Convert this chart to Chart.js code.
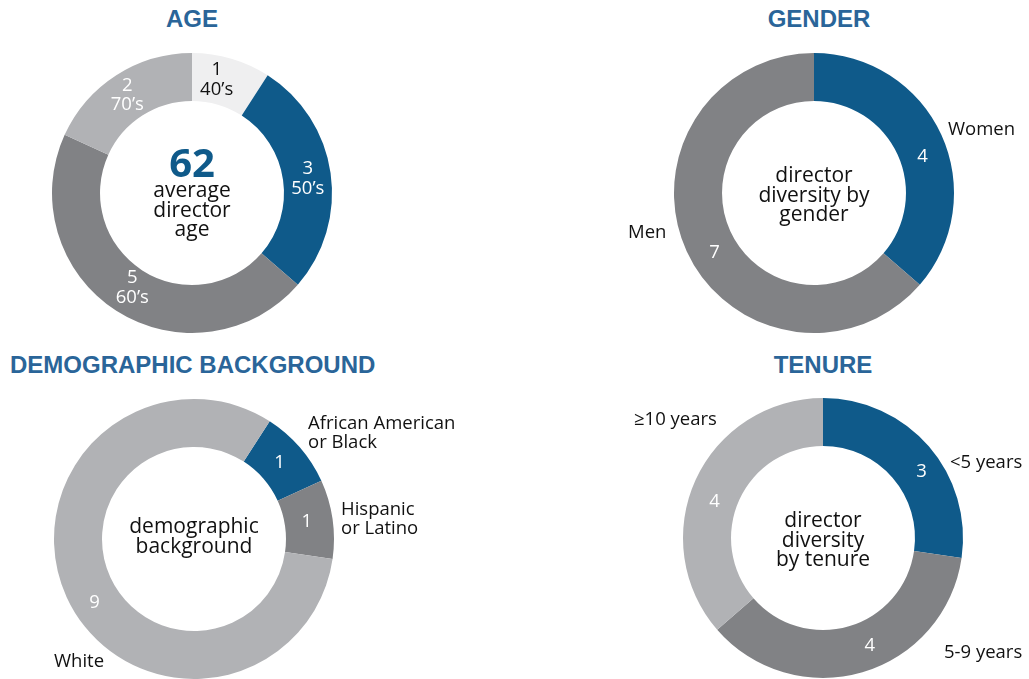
<!DOCTYPE html>
<html>
<head>
<meta charset="utf-8">
<script src="https://cdn.jsdelivr.net/npm/chart.js@4/dist/chart.umd.min.js"></script>
<style>
  html, body { margin: 0; padding: 0; background: #ffffff; }
  body { width: 1029px; height: 679px; position: relative; overflow: hidden; font-family: "Open Sans", sans-serif; color: #111; }
  .title { position: absolute; font-family: "Liberation Sans", Arial, sans-serif; font-weight: bold; font-size: 24px; color: #2a6599; white-space: nowrap; line-height: 1; }
  .title.c { width: 300px; text-align: center; }
  canvas { position: absolute; }
  .center { position: absolute; text-align: center; font-size: 21px; line-height: 19.5px; white-space: nowrap; color: #111; }
  .side { position: absolute; font-size: 18.5px; line-height: 19px; white-space: nowrap; color: #111; }
  .big { font-size: 40px; font-weight: bold; color: #0f5a8a; line-height: 36px; display: block; }
</style>
</head>
<body>
<div class="title c" style="left:42px; top:7px;">AGE</div>
<div class="title c" style="left:669px; top:7px;">GENDER</div>
<div class="title" style="left:10px; top:353px;">DEMOGRAPHIC BACKGROUND</div>
<div class="title c" style="left:673px; top:353px;">TENURE</div>

<canvas id="age" width="300" height="300" style="left:42px; top:43px;"></canvas>
<canvas id="gender" width="300" height="300" style="left:664px; top:43px;"></canvas>
<canvas id="demo" width="300" height="300" style="left:44px; top:389px;"></canvas>
<canvas id="tenure" width="300" height="300" style="left:673px; top:388px;"></canvas>

<div class="center" style="left:92px; width:200px; top:144px;"><span class="big">62</span>average<br>director<br>age</div>
<div class="center" style="left:714px; width:200px; top:165px;">director<br>diversity by<br>gender</div>
<div class="center" style="left:94px; width:200px; top:516px;">demographic<br>background</div>
<div class="center" style="left:723px; width:200px; top:510px;">director<br>diversity<br>by tenure</div>

<div class="side" style="left:948px; top:118px;">Women</div>
<div class="side" style="left:628px; top:221px;">Men</div>
<div class="side" style="left:308px; top:412px;">African American<br>or Black</div>
<div class="side" style="left:341px; top:498px;">Hispanic<br>or Latino</div>
<div class="side" style="left:54px; top:650px;">White</div>
<div class="side" style="left:634px; top:408px;">≥10 years</div>
<div class="side" style="left:950px; top:451px;">&lt;5 years</div>
<div class="side" style="left:944px; top:641px;">5-9 years</div>

<script>
// ---- data ----
const ageCategories = ["40’s", "50’s", "60’s", "70’s"];
const ageValues = [1, 3, 5, 2];

const genderCategories = ["Women", "Men"];
const genderValues = [4, 7];

const demoCategories = ["African American or Black", "Hispanic or Latino", "White"];
const demoValues = [1, 1, 9];

const tenureCategories = ["<5 years", "5-9 years", "≥10 years"];
const tenureValues = [3, 4, 4];

// ---- styles ----
const BLUE = "#0f5a8a", DARK = "#818285", LIGHT = "#b1b2b5", PALE = "#efeff0";

const sliceLabels = {
  id: "sliceLabels",
  afterDatasetsDraw(chart, args, opts) {
    const ctx = chart.ctx;
    const meta = chart.getDatasetMeta(0);
    const ds = chart.data.datasets[0];
    ctx.save();
    ctx.font = "18.5px 'Open Sans', sans-serif";
    ctx.textAlign = "center";
    ctx.textBaseline = "middle";
    meta.data.forEach((arc, i) => {
      const p = arc.tooltipPosition();
      const off = (opts.offsets && opts.offsets[i]) || [0, 0];
      const lines = [String(ds.data[i])];
      if (opts.showCategory) lines.push(chart.data.labels[i]);
      ctx.fillStyle = opts.textColors[i];
      const lh = 19.5;
      const y0 = p.y + off[1] - (lines.length - 1) * lh / 2;
      lines.forEach((t, k) => ctx.fillText(t, p.x + off[0], y0 + k * lh));
    });
    ctx.restore();
  }
};

function donut(id, labels, values, colors, textColors, rotation, showCategory, offsets) {
  new Chart(document.getElementById(id), {
    type: "doughnut",
    data: {
      labels: labels,
      datasets: [{ data: values, backgroundColor: colors, borderWidth: 0, hoverOffset: 0 }]
    },
    options: {
      responsive: false,
      animation: false,
      events: [],
      rotation: rotation,
      cutout: "65.7%",
      layout: { padding: 10 },
      plugins: {
        legend: { display: false },
        tooltip: { enabled: false },
        sliceLabels: { textColors: textColors, showCategory: showCategory, offsets: offsets }
      }
    },
    plugins: [sliceLabels]
  });
}

donut("age", ageCategories, ageValues, [PALE, BLUE, DARK, LIGHT], ["#111", "#fff", "#fff", "#fff"], 0, true,
      [[-8, -2], [1, 2], [3, -3], [-2, 0]]);
donut("gender", genderCategories, genderValues, [BLUE, DARK], ["#fff", "#fff"], 0, false,
      [[3, 12], [6, 12]]);
donut("demo", demoCategories, demoValues, [BLUE, DARK, LIGHT], ["#fff", "#fff", "#fff"], 32.73, false,
      [[-2, 0], [-2, -1], [6, 16]]);
donut("tenure", tenureCategories, tenureValues, [BLUE, DARK, LIGHT], ["#fff", "#fff", "#fff"], 0, false,
      [[11, 10], [14, -4], [-3, 12]]);
</script>
</body>
</html>
